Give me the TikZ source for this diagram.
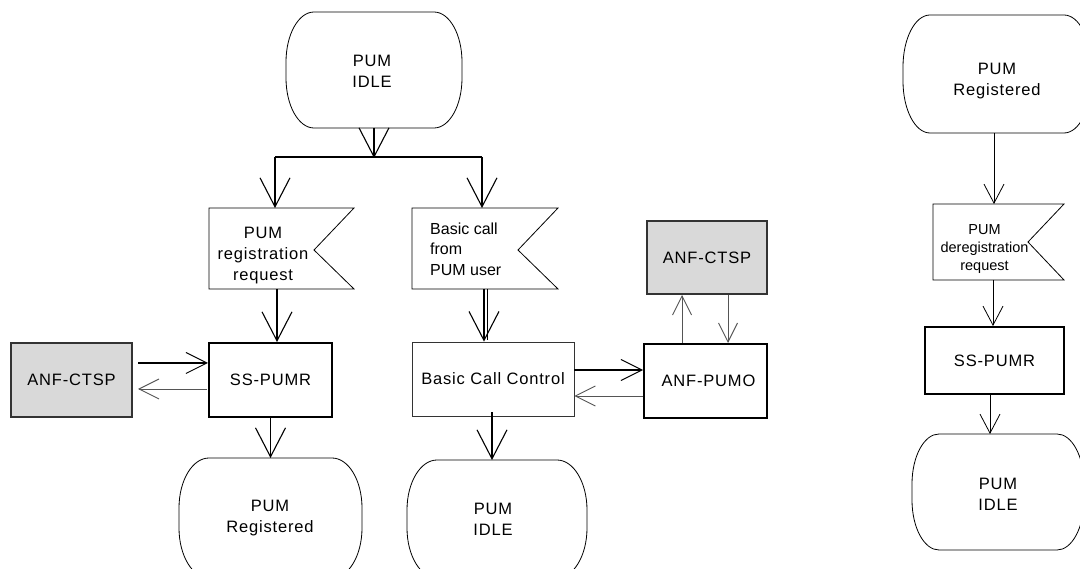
\documentclass[tikz,border=0pt]{standalone}
\usepackage{fontspec}
\setmainfont{Liberation Sans}
\newfontfamily\lsp[LetterSpace=5]{Liberation Sans}
\usetikzlibrary{arrows.meta,calc}
\definecolor{boxgray}{HTML}{D9D9D9}
\definecolor{linegray}{HTML}{555555}
\definecolor{edgegray}{HTML}{333333}

\tikzset{
  lbl/.style={font=\lsp\fontsize{16.5}{21}\selectfont, align=center, inner sep=0pt},
  plainlbl/.style={font=\fontsize{16}{20.5}\selectfont, align=left, inner sep=0pt},
  smalllbl/.style={font=\fontsize{14.5}{18}\selectfont, align=center, inner sep=0pt},
  outline/.style={line width=0.8pt, draw=black},
  thickbox/.style 2 args={lbl, draw=black, line width=2pt, minimum width=#1, minimum height=#2},
  graybox/.style 2 args={lbl, draw=edgegray, fill=boxgray, line width=2pt, minimum width=#1, minimum height=#2},
  thinbox/.style 2 args={lbl, draw=black!80, line width=0.8pt, minimum width=#1, minimum height=#2},
  mainline/.style={line width=1.8pt},
  mainarrow/.style={line width=1.8pt, -{Straight Barb[length=29pt,width=30pt,line width=1.1pt]}},
  midarrow/.style={line width=1.8pt, -{Straight Barb[length=21pt,width=21pt,line width=1pt]}},
  backarrow/.style={line width=0.9pt, draw=linegray, -{Straight Barb[length=20pt,width=20pt,line width=0.9pt]}},
  smallarrow/.style={line width=0.9pt, draw=linegray, -{Straight Barb[length=19pt,width=19pt,line width=0.9pt]}},
  rightarrow/.style={line width=0.8pt, -{Straight Barb[length=19pt,width=20pt,line width=0.8pt]}},
  thinline/.style={line width=0.8pt},
}

% state outline: name, L, T, R, B, rx, ry
\newcommand\stateoutline[7]{%
  \draw[outline] (#2+#6,#3) -- (#4-#6,#3)
    .. controls (#4-0.448*#6,#3) and (#4,#3+0.448*#7) .. (#4,#3+#7)
    -- (#4,#5-#7)
    .. controls (#4,#5-0.448*#7) and (#4-0.448*#6,#5) .. (#4-#6,#5)
    -- (#2+#6,#5)
    .. controls (#2+0.448*#6,#5) and (#2,#5-0.448*#7) .. (#2,#5-#7)
    -- (#2,#3+#7)
    .. controls (#2,#3+0.448*#7) and (#2+0.448*#6,#3) .. (#2+#6,#3) -- cycle;
  \coordinate (#1-n) at ({(#2+#4)/2},#3);
  \coordinate (#1-s) at ({(#2+#4)/2},#5);}

% flag outline: name, L, T, R, B, notch x, notch y
\newcommand\flagoutline[7]{%
  \draw[outline] (#2,#3) -- (#4,#3) -- (#6,#7) -- (#4,#5) -- (#2,#5) -- cycle;
  \coordinate (#1-n) at ({(#2+#4)/2},#3);
  \coordinate (#1-s) at ({(#2+#4)/2},#5);}

\begin{document}
\begin{tikzpicture}[x=1pt,y=-1pt]
\useasboundingbox (0,0) rectangle (1080,569);
\clip (0,0) rectangle (1080,569);

% ---------- left diagram ----------
\node[lbl] (idle1) at (372,71) {PUM\\IDLE};
\stateoutline{idle1}{286}{12}{462}{128}{28}{50}

\coordinate (br) at (374,158);
\coordinate (bl) at (275,157);
\coordinate (brr) at (482,157);

\node[lbl] (flag1) at (263,256) {PUM\\registration\\request};
\flagoutline{flag1}{209}{208}{354}{289}{314}{250}

\node[plainlbl, anchor=west] (flag2) at (430,249) {Basic call\\from\\PUM user};
\flagoutline{flag2}{412}{208}{558}{289}{518}{250}

\node[graybox={121pt}{74pt}] (ctsp1) at (71.5,380) {ANF-CTSP};
\node[thickbox={123pt}{74pt}] (sspumr1) at (270.5,380) {SS-PUMR};
\node[thinbox={162pt}{74pt}] (bcc) at (493,379) {Basic Call Control};
\node[thickbox={123pt}{74pt}] (pumo) at (705.5,381) {\hspace*{6pt}ANF-PUMO};
\node[graybox={120pt}{73pt}] (ctsp2) at (707,257.5) {ANF-CTSP};

\node[lbl] (reg1) at (270,518) {PUM\\Registered};
\stateoutline{reg1}{179}{458}{362}{578}{30}{50}
\node[lbl] (idle2) at (493,519) {PUM\\IDLE};
\stateoutline{idle2}{407}{460}{587}{578}{30}{50}

% connectors
\draw[mainarrow] (idle1-s) -- (br);
\draw[mainline] (bl) -- (brr);
\draw[mainarrow] (bl) -- (bl |- flag1-n);
\draw[mainarrow] (brr) -- (brr |- flag2-n);
\draw[mainarrow] ([xshift=-4.5pt]flag1-s) -- ([xshift=6.5pt]sspumr1.north);
\draw[mainarrow] ([xshift=-1pt]flag2-s) -- ([xshift=-9pt]bcc.north);
\draw[thinline] ([xshift=2pt]flag2-s) -- ([xshift=-6pt,yshift=2pt]bcc.north);
\draw[midarrow] ([xshift=5pt,yshift=17pt]ctsp1.east) -- ([yshift=17pt]sspumr1.west);
\draw[backarrow] ([xshift=-1pt,yshift=-9pt]sspumr1.west) -- ([xshift=5pt,yshift=-9pt]ctsp1.east);
\draw[mainarrow] (sspumr1.south) -- (reg1-n);
\draw[mainarrow] ([xshift=-1pt,yshift=4pt]bcc.south) -- ([xshift=-5pt]idle2-n);
\draw[midarrow] ([yshift=9pt]bcc.east) -- ([yshift=11pt]pumo.west);
\draw[backarrow] ([yshift=-15pt]pumo.west) -- ([yshift=-17pt]bcc.east);
\draw[smallarrow] ([xshift=-23.5pt]pumo.north) -- ([xshift=-25pt]ctsp2.south);
\draw[smallarrow] ([xshift=21pt]ctsp2.south) -- ([xshift=22.5pt]pumo.north);

% ---------- right diagram ----------
\node[lbl] (reg2) at (997,81) {PUM\\Registered};
\stateoutline{reg2}{903}{15}{1091}{133}{27}{52}
\node[smalllbl] (dereg) at (984.5,249) {PUM\\deregistration\\request};
\flagoutline{dereg}{933}{204}{1064}{280}{1028}{242}
\node[thickbox={139pt}{67pt}] (sspumr2) at (994.5,360.5) {SS-PUMR};
\node[lbl] (idle3) at (998,494) {PUM\\IDLE};
\stateoutline{idle3}{912}{434}{1084}{550}{27}{50}

\draw[rightarrow] ([xshift=-3pt]reg2-s) -- ([xshift=-4.5pt]dereg-n);
\draw[rightarrow] ([xshift=-5.5pt]dereg-s) -- ([xshift=-1.5pt]sspumr2.north);
\draw[rightarrow] ([xshift=-4.5pt]sspumr2.south) -- ([xshift=-8pt]idle3-n);
\end{tikzpicture}
\end{document}
